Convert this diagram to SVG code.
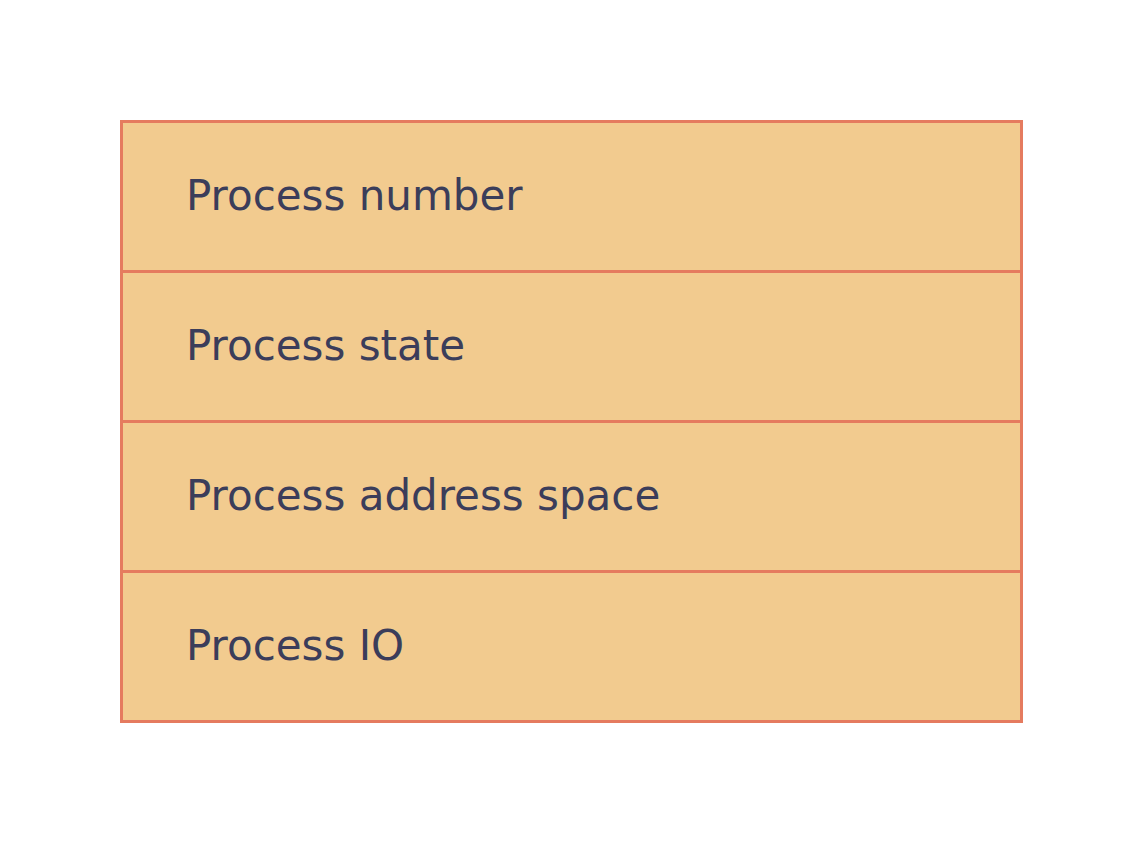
<svg xmlns="http://www.w3.org/2000/svg" width="1146" height="846" viewBox="0 0 1146 846">
<style>
.cell{fill:#F2CB8F;stroke:#E57B5F;stroke-width:3}
.lbl{font-family:"DejaVu Sans",Verdana,sans-serif;font-size:42px;fill:#3B3D5A}
</style>
<rect width="1146" height="846" fill="#ffffff"/>
<g id="row1"><rect class="cell" x="121.5" y="121.5" width="900" height="150"/><text class="lbl" x="186" y="210">Process number</text></g>
<g id="row2"><rect class="cell" x="121.5" y="271.5" width="900" height="150"/><text class="lbl" x="186" y="360">Process state</text></g>
<g id="row3"><rect class="cell" x="121.5" y="421.5" width="900" height="150"/><text class="lbl" x="186" y="510">Process address space</text></g>
<g id="row4"><rect class="cell" x="121.5" y="571.5" width="900" height="150"/><text class="lbl" x="186" y="660">Process IO</text></g>
<g id="connectors"/>
</svg>
